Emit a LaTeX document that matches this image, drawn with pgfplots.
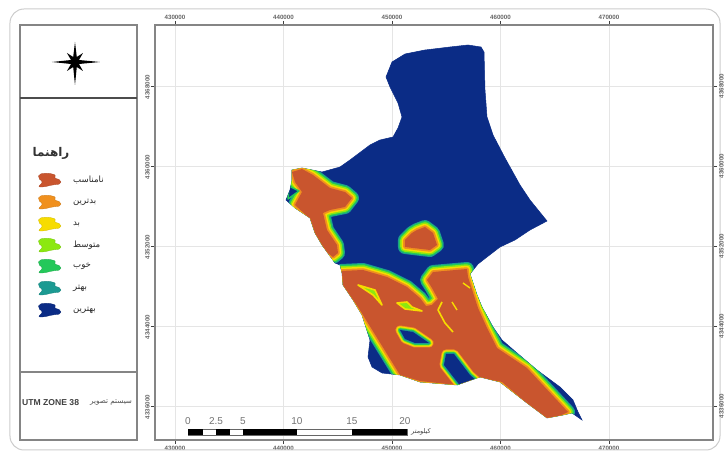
\documentclass[border=0pt]{standalone}
\usepackage{fontspec}
\usepackage{pgfplots}
\usepackage{pgfplotstable}
\pgfplotsset{compat=1.18}
\setmainfont{Liberation Sans}
\newfontfamily\fa[Script=Arabic]{DejaVu Sans}
\TeXXeTstate=1
\newcommand\pe[1]{{\fa\beginR #1\endR}}
\definecolor{cB}{HTML}{0B2C86}
\definecolor{cT}{HTML}{1C9A92}
\definecolor{cG}{HTML}{24C85A}
\definecolor{cL}{HTML}{8CE810}
\definecolor{cY}{HTML}{F7DC00}
\definecolor{cO}{HTML}{F0901E}
\definecolor{cR}{HTML}{C9552E}
\definecolor{frame}{HTML}{858585}

% Everything in reference pixel coordinates
\pgfplotstableread{
x y
386 77
392 62
405 54
425 50
450 47
468 45
481 47
484 52
485 90
487 117
493 135
505 158
520 185
530 200
547 221
530 230
515 240
500 247
487 257
478 264
470 274
477 295
482 307
493 327
502 340
517 353
537 370
560 387
573 400
578 412
582 420
572 413
563 415
547 418
527 403
500 382
480 377
457 385
420 382
400 375
382 373
372 367
368 357
370 340
362 315
353 300
343 285
342 273
340 265
335 263
322 245
315 233
310 218
295 208
286 200
290 190
292 180
292 170
302 168
322 172
340 167
350 160
370 145
380 140
393 137
398 128
402 117
398 103
390 87
}\outline

\pgfplotstableread{
x y
292 172
302 169
313 175
330 188
345 192
352 198
345 207
330 210
323 213
327 230
337 245
338 253
333 257
320 247
312 230
308 217
295 205
302 192
295 182
}\regionA

\pgfplotstableread{
x y
405 240
412 233
417 230
425 227
433 233
437 245
430 250
413 248
405 247
}\regionB

\pgfplotstableread{
x y
341 271
363 270
387 277
407 287
420 298
426 306
432 305
438 299
432 288
427 280
433 272
467 269
468 277
478 308
487 328
497 348
527 368
568 412
553 419
543 417
502 382
477 377
460 382
457 385
420 381
400 375
363 315
358 307
343 285
}\regionC

\pgfplotstableread{
x y
400 330
413 332
429 343
415 343
405 339
}\holeA

\pgfplotstableread{
x y
446 354
454 354
470 375
478 382
462 388
444 365
}\holeB

\pgfplotstableread{
x y
289 186
299 191
288 199
}\holeC

\pgfplotstableread{
x y
358 285
375 290
382 305
373 295
}\slitA
\pgfplotstableread{
x y
397 303
407 302
412 307
422 311
405 309
}\slitB
\pgfplotstableread{
x y
442 302
438 310
445 323
453 332
}\slitC
\pgfplotstableread{
x y
452 302
457 310
}\slitD
\pgfplotstableread{
x y
463 283
470 288
}\slitE

\pgfplotstableread{
x y
-11 -6
-2 -7
6 -5
4 -2
11 0
11 4
2 5
-6 7
-12 7
-7 2
-12 -2
}\blob

\pgfplotstableread{
x y
75 42
76.8 57
83 53
79 60
100 62
79 64
83 71
76.8 67
75 85
73.2 67
67 71
71 64
52 62
71 60
67 53
73.2 57
}\rose

\newcommand\halo[1]{%
  \addplot[draw=cT,line width=14pt,line join=round] table {#1} -- cycle;
  \addplot[draw=cG,line width=12pt,line join=round] table {#1} -- cycle;
  \addplot[draw=cL,line width=9.5pt,line join=round] table {#1} -- cycle;
  \addplot[draw=cY,line width=6.5pt,line join=round] table {#1} -- cycle;
  \addplot[draw=cO,line width=3.5pt,line join=round] table {#1} -- cycle;
  \addplot[fill=cR,draw=none] table {#1} -- cycle;
}
\newcommand\hole[1]{%
  \addplot[draw=cO,line width=9pt,line join=round] table {#1} -- cycle;
  \addplot[draw=cY,line width=7.4pt,line join=round] table {#1} -- cycle;
  \addplot[draw=cL,line width=5.2pt,line join=round] table {#1} -- cycle;
  \addplot[draw=cG,line width=3.6pt,line join=round] table {#1} -- cycle;
  \addplot[draw=cT,line width=2pt,line join=round] table {#1} -- cycle;
  \addplot[fill=cB,draw=none] table {#1} -- cycle;
}
\newcommand\swatch[2]{%
  \addplot[fill=#1,draw=#1!85!black,line width=.3pt,rounded corners=2pt] table[x expr=\thisrow{x}+50,y expr=\thisrow{y}+#2] {\blob} -- cycle;
}
\newcommand\lab[2]{\node[anchor=west,font=\fontsize{8.6}{9}\selectfont,text=black!85,inner sep=0pt] at (73,#1) {\pe{#2}};}
\newcommand\slab[2]{\node[font=\fontsize{10}{11}\selectfont,text=black!55] at (#1,421) {#2};}

\begin{document}
\begin{tikzpicture}
\useasboundingbox (-155pt,-14pt) rectangle (569pt,440pt);
\begin{axis}[
  scale only axis, width=558pt, height=415pt,
  xmin=155, xmax=713, ymin=25, ymax=440, y dir=reverse,
  clip=false, no markers,
  axis line style={draw=frame,line width=1.6pt},
  grid=major, grid style={draw=black!10,line width=.8pt},
  xtick={175,283.5,392,500.5,609},
  xticklabels={430000,440000,450000,460000,470000},
  ytick={86,166,246,326,406},
  yticklabels={4368000,4360000,4352000,4344000,4336000},
  tick align=outside, tick style={draw=black!75,line width=.9pt},
  major tick length=4pt,
  xticklabel style={font=\bfseries\fontsize{6.2}{7}\selectfont,text=black!60,inner sep=1pt,yshift=-1pt},
  yticklabel style={font=\bfseries\fontsize{6.2}{7}\selectfont,text=black!60,rotate=90,anchor=south,inner sep=1pt,xshift=-1pt},
]
% outer frame and left panels
\draw[black!20,line width=1pt,rounded corners=14pt] (10,9) rectangle (720,450);
\draw[frame,line width=1.1pt] (20,25) rectangle (137,440);
\draw[black!70,line width=1.1pt] (20,98) -- (137,98);
\draw[frame,line width=1.1pt] (20,372) -- (137,372);

% map
\addplot[fill=cB,draw=cB,line width=.5pt] table {\outline} -- cycle;
\begin{scope}
\clip (386,77)--(392,62)--(405,54)--(425,50)--(450,47)--(468,45)--(481,47)--(484,52)--(485,90)--(487,117)--(493,135)--(505,158)--(520,185)--(530,200)--(547,221)--(530,230)--(515,240)--(500,247)--(487,257)--(478,264)--(470,274)--(477,295)--(482,307)--(493,327)--(502,340)--(517,353)--(537,370)--(560,387)--(573,400)--(578,412)--(582,420)--(572,413)--(563,415)--(547,418)--(527,403)--(500,382)--(480,377)--(457,385)--(420,382)--(400,375)--(382,373)--(372,367)--(368,357)--(370,340)--(362,315)--(353,300)--(343,285)--(342,273)--(340,265)--(335,263)--(322,245)--(315,233)--(310,218)--(295,208)--(286,200)--(290,190)--(292,180)--(292,170)--(302,168)--(322,172)--(340,167)--(350,160)--(370,145)--(380,140)--(393,137)--(398,128)--(402,117)--(398,103)--(390,87)--cycle;
\halo{\regionA}
\halo{\regionB}
\halo{\regionC}
\hole{\holeA}
\hole{\holeB}
\addplot[fill=cB,draw=cG,line width=1.5pt,line join=round] table {\holeC} -- cycle;
\addplot[fill=cL,draw=cY,line width=1.6pt,line join=round] table {\slitA} -- cycle;
\addplot[fill=cL,draw=cY,line width=1.6pt,line join=round] table {\slitB} -- cycle;
\addplot[draw=cY,line width=1.6pt,line join=round] table {\slitC};
\addplot[draw=cY,line width=1.4pt] table {\slitD};
\addplot[draw=cY,line width=1.4pt] table {\slitE};
\end{scope}

% compass
\addplot[fill=black,draw=none] table {\rose} -- cycle;

% legend
\node[font=\bfseries\fontsize{12}{13}\selectfont,text=black!80] at (51,153) {\pe{راهنما}};
\swatch{cR}{180}
\swatch{cO}{202}
\swatch{cY}{224}
\swatch{cL}{245}
\swatch{cG}{266}
\swatch{cT}{288}
\swatch{cB}{310}
\lab{180}{نامناسب}
\lab{202}{بدترین}
\lab{224}{بد}
\lab{245}{متوسط}
\lab{266}{خوب}
\lab{288}{بهتر}
\lab{310}{بهترین}
\node[anchor=west,font=\bfseries\fontsize{8.6}{9}\selectfont,text=black!75,inner sep=0pt] at (22,403) {UTM ZONE 38};
\node[anchor=west,font=\fontsize{7.2}{8}\selectfont,text=black!70,inner sep=0pt] at (90,403) {\pe{سیستم تصویر}};

% scale bar
\draw[black!60,line width=.4pt,fill=white] (188,429) rectangle (407,435);
\fill[black] (188,429) rectangle (203,435);
\fill[black] (216,429) rectangle (230,435);
\fill[black] (243,429) rectangle (297,435);
\fill[black] (352,429) rectangle (407,435);
\slab{188}{0}
\slab{216}{2.5}
\slab{243}{5}
\slab{297}{10}
\slab{352}{15}
\slab{405}{20}
\node[anchor=west,font=\fontsize{6.5}{7}\selectfont,text=black!75,inner sep=0pt] at (411,432) {\pe{کیلومتر}};
\end{axis}
\begin{axis}[
  scale only axis, width=558pt, height=415pt,
  xmin=155, xmax=713, ymin=25, ymax=440, y dir=reverse,
  axis line style={draw=none},
  xtick={175,283.5,392,500.5,609},
  xticklabels={430000,440000,450000,460000,470000},
  ytick={86,166,246,326,406},
  yticklabels={4368000,4360000,4352000,4344000,4336000},
  xticklabel pos=top, yticklabel pos=right,
  tick align=outside, major tick length=0pt,
  xticklabel style={font=\bfseries\fontsize{6.2}{7}\selectfont,text=black!60,inner sep=1pt,yshift=4pt},
  yticklabel style={font=\bfseries\fontsize{6.2}{7}\selectfont,text=black!60,rotate=90,anchor=north,inner sep=1pt,yshift=-5pt},
]
\end{axis}
\end{tikzpicture}
\end{document}
